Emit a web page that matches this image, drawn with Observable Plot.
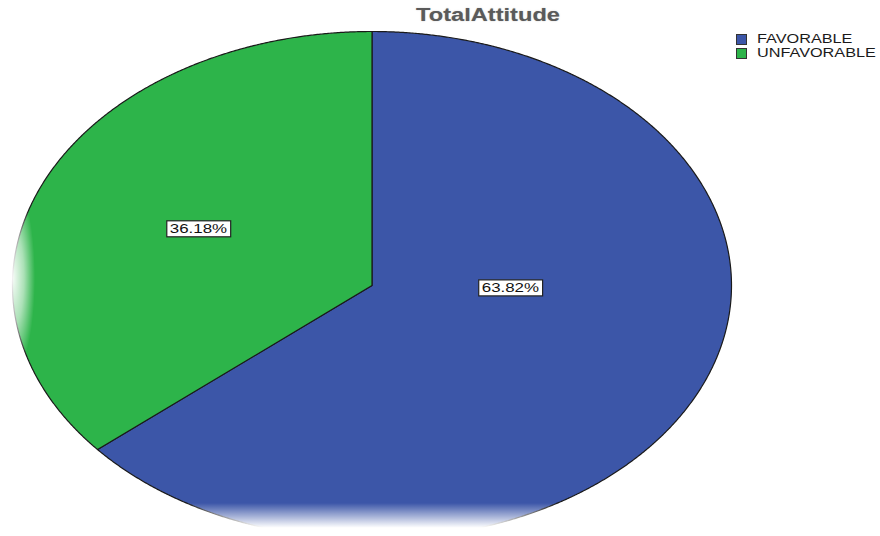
<!DOCTYPE html>
<html><head><meta charset="utf-8">
<script src="https://cdn.jsdelivr.net/npm/d3@7"></script>
<script src="https://cdn.jsdelivr.net/npm/@observablehq/plot@0.6"></script>
<style>
body{margin:0;background:#fff;font-family:"Liberation Sans",Arial,sans-serif;}
#wrap{position:relative;width:880px;height:536px;overflow:hidden;}
#title{position:absolute;left:488px;top:5px;font-weight:bold;font-size:17.5px;color:#5a5a5a;white-space:nowrap;transform:translateX(-50%) scaleX(1.35);text-shadow:0 0 1px rgba(90,90,90,0.5);}
#legend{position:absolute;left:736px;top:32px;font-size:12.5px;color:#1a1a1a;}
.item{display:flex;align-items:center;height:14px;}
.sw{width:9px;height:9px;border:1px solid #333;margin-right:10px;flex:none;}
.lt{display:inline-block;transform:scaleX(1.3);transform-origin:left center;white-space:nowrap;}
</style></head><body><div id="wrap"><div id="title"></div><div id="legend"></div></div>
<script>
const title = "TotalAttitude";
const categories = ["FAVORABLE", "UNFAVORABLE"];
const percents = [63.82, 36.18];
const colors = ["#3c56a8", "#2db44a"];

const pie = d3.pie().sort(null).value(d => d)(percents);
const outline = [];
pie.forEach((s, i) => {
  const cat = categories[i];
  outline.push({cat, x: 0, y: 0});
  const n = Math.ceil((s.endAngle - s.startAngle) / (Math.PI / 720));
  for (let k = 0; k <= n; k++) {
    const a = s.startAngle + (s.endAngle - s.startAngle) * k / n;
    outline.push({cat, x: Math.sin(a), y: -Math.cos(a)});
  }
  outline.push({cat, x: 0, y: 0});
});
const labels = pie.map((s, i) => {
  const span = s.endAngle - s.startAngle, mid = (s.startAngle + s.endAngle) / 2;
  const r = 4 * Math.sin(span / 2) / (3 * span);
  return {cat: categories[i], text: percents[i].toFixed(2) + "%", x: r * Math.sin(mid), y: -r * Math.cos(mid)};
});

const svg = Plot.plot({
  width: 880, height: 536, margin: 0,
  style: {background: "transparent", fontFamily: "Liberation Sans, Arial, sans-serif"},
  x: {domain: [-1, 1], range: [12, 731], axis: null},
  y: {domain: [-1, 1], range: [31, 539], axis: null},
  color: {domain: categories, range: colors},
  marks: [
    Plot.line(outline, {x: "x", y: "y", z: "cat", fill: "cat", stroke: "#1a1a1a", strokeWidth: 1.2, strokeLinejoin: "round"}),
    Plot.text(labels.filter(d => d.cat === categories[0]), {x: "x", y: "y", text: "text", fontSize: 13, fill: "#111", dx: 40, dy: -30}),
    Plot.text(labels.filter(d => d.cat === categories[1]), {x: "x", y: "y", text: "text", fontSize: 13, fill: "#111"})
  ]
});
const wrap = document.getElementById("wrap");
wrap.insertBefore(svg, wrap.firstChild);
svg.style.position = "absolute"; svg.style.left = "0"; svg.style.top = "0";

// label boxes
const ns = "http://www.w3.org/2000/svg";
svg.querySelectorAll('g[aria-label="text"] text').forEach(t => {
  const len = t.getComputedTextLength();
  t.setAttribute("textLength", len * 1.3);
  t.setAttribute("lengthAdjust", "spacingAndGlyphs");
  const bb = t.getBBox();
  const r = document.createElementNS(ns, "rect");
  r.setAttribute("x", bb.x - 3); r.setAttribute("y", bb.y);
  r.setAttribute("width", bb.width + 6); r.setAttribute("height", bb.height + 1);
  r.setAttribute("fill", "#fff"); r.setAttribute("stroke", "#222"); r.setAttribute("stroke-width", 1.2);
  if (t.getAttribute("transform")) r.setAttribute("transform", t.getAttribute("transform"));
  t.parentNode.insertBefore(r, t);
});

// reflection fades
const defs = d3.select(svg).append("defs");
const gb = defs.append("linearGradient").attr("id", "fadeB").attr("x1", 0).attr("x2", 0).attr("y1", 0).attr("y2", 1);
gb.append("stop").attr("offset", 0).attr("stop-color", "#fff").attr("stop-opacity", 0);
gb.append("stop").attr("offset", 0.75).attr("stop-color", "#fff").attr("stop-opacity", 1);
gb.append("stop").attr("offset", 1).attr("stop-color", "#fff").attr("stop-opacity", 1);
const gl = defs.append("radialGradient").attr("id", "fadeL");
gl.append("stop").attr("offset", 0).attr("stop-color", "#fff").attr("stop-opacity", 0.95);
gl.append("stop").attr("offset", 0.5).attr("stop-color", "#fff").attr("stop-opacity", 0.6);
gl.append("stop").attr("offset", 1).attr("stop-color", "#fff").attr("stop-opacity", 0);
d3.select(svg).append("rect").attr("x", 0).attr("y", 503).attr("width", 880).attr("height", 33).attr("fill", "url(#fadeB)");
d3.select(svg).append("ellipse").attr("cx", 13).attr("cy", 278).attr("rx", 22).attr("ry", 95).attr("fill", "url(#fadeL)");

// title & legend
document.getElementById("title").textContent = title;
const leg = d3.select("#legend");
categories.forEach((c, i) => {
  const it = leg.append("div").attr("class", "item");
  it.append("div").attr("class", "sw").style("background", colors[i]);
  it.append("span").attr("class", "lt").text(c);
});
</script></body></html>
